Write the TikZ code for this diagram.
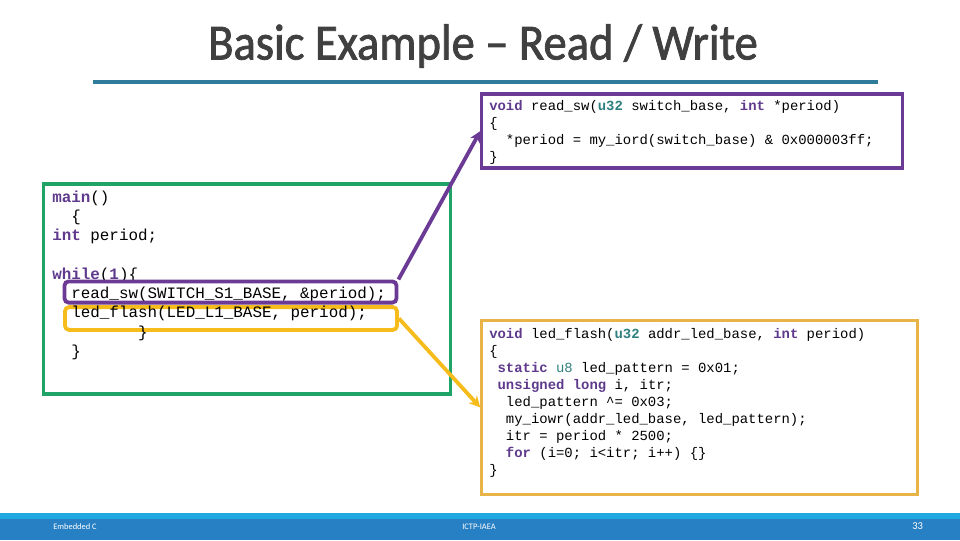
\documentclass[tikz,border=0pt]{standalone}
\usepackage{fontspec}
\setmainfont{Carlito}
\setmonofont{Liberation Mono}
\newfontfamily\titlefont[FakeStretch=0.92,FakeBold=1.6]{Carlito}
\usetikzlibrary{arrows.meta,positioning}

\definecolor{codepurple}{HTML}{5F3A8C}
\definecolor{codeteal}{HTML}{2F7F7F}
\definecolor{framepurple}{HTML}{6A3A94}
\definecolor{framegreen}{HTML}{1FA366}
\definecolor{frameyellow}{HTML}{E8B448}
\definecolor{callyellow}{HTML}{F5BC1C}
\definecolor{rulecol}{HTML}{2F7C9A}
\definecolor{bandlight}{HTML}{1FA9E0}
\definecolor{banddark}{HTML}{2880C4}

\newcommand{\kw}[1]{\textcolor{codepurple}{\textbf{#1}}}
\newcommand{\ty}[1]{\textcolor{codeteal}{\textbf{#1}}}

\begin{document}
\begin{tikzpicture}[
		x=0.025cm, y=-0.025cm,
		frame/.style={draw, line width=2.2pt, inner sep=0pt},
		callbox/.style={frame, line width=2.7pt, rounded corners=3pt, minimum width=8.3cm},
		smallcode/.style={anchor=north west, align=left, inner sep=0pt, font=\ttfamily\fontsize{9.9}{12.1}\selectfont},
		bigcode/.style={anchor=north west, align=left, inner sep=0pt, font=\ttfamily\fontsize{11.3}{13.7}\selectfont},
		footer/.style={text=white, inner sep=0pt, font=\fontsize{6}{7}\selectfont},
		link/.style={-{Stealth[length=8pt,width=8pt]}, line width=2.7pt}
		]
	\useasboundingbox (0,0) rectangle (960,540);

	% title
	\node[text=black!75, font=\titlefont\fontsize{36}{40}\selectfont, inner sep=0pt] (title) at (483,46) {Basic Example – Read / Write};
	\coordinate (ruleL) at (93,82);
	\coordinate (ruleR) at (878,82);
	\draw[rulecol, line width=2.2pt] (ruleL) -- (ruleR);

	% boxes
	\node[frame, framegreen, minimum width=10.15cm, minimum height=5.25cm] (mainbox) at (247,289) {};
	\node[frame, framepurple, minimum width=10.5cm, minimum height=1.85cm] (readbox) at (692,131) {};
	\node[frame, frameyellow, minimum width=10.88cm, minimum height=4.33cm] (ledbox) at (699.5,407.5) {};
	\node[callbox, callyellow, minimum height=0.57cm] (callled) at (231,318.5) {};

	% code
	\node[smallcode] (readcode) at (489,100) {\kw{void} read\_sw(\ty{u32} switch\_base, \kw{int} *period)\\
		\{\\
		\ \ *period = my\_iord(switch\_base) \& 0x000003ff;\\
		\}};
	\node[smallcode] (ledcode) at (489,328) {\kw{void} led\_flash(\ty{u32} addr\_led\_base, \kw{int} period)\\
		\{\\
		\ \kw{static} \textcolor{codeteal}{u8} led\_pattern = 0x01;\\
		\ \kw{unsigned long} i, itr;\\
		\ \ led\_pattern \textasciicircum= 0x03;\\
		\ \ my\_iowr(addr\_led\_base, led\_pattern);\\
		\ \ itr = period * 2500;\\
		\ \ \kw{for} (i=0; i<itr; i++) \{\}\\
		\}};
	\node[bigcode] (maincode) at (52,190.5) {\kw{main}()\\
		\ \ \{\\
		\kw{int} period;\\
		\ \\
		\kw{while}(\kw{1})\{\\
		\ \ read\_sw(SWITCH\_S1\_BASE, \&period);\\
		\ \ led\_flash(LED\_L1\_BASE, period);\\
		\ \ \ \ \ \ \ \ \ \}\\
		\ \ \}};

	% calls
	\node[callbox, framepurple, minimum height=0.53cm] (callread) at (230.5,292) {};

	\draw[link, framepurple] (callread.north east) -- (readbox.west);
	\draw[link, callyellow] (callled.east) -- (ledbox.west);

	% footer
	\fill[banddark] (0,513) rectangle (960,540);
	\fill[bandlight] (0,513) rectangle (960,519);
	\node[footer, anchor=west] (ftleft) at (53,527) {Embedded C};
	\node[footer, anchor=west] (ftmid) at (462,527) {ICTP-IAEA};
	\node[footer, anchor=west, font=\fontsize{7.5}{8}\selectfont] (ftright) at (912,526) {33};
\end{tikzpicture}
\end{document}
